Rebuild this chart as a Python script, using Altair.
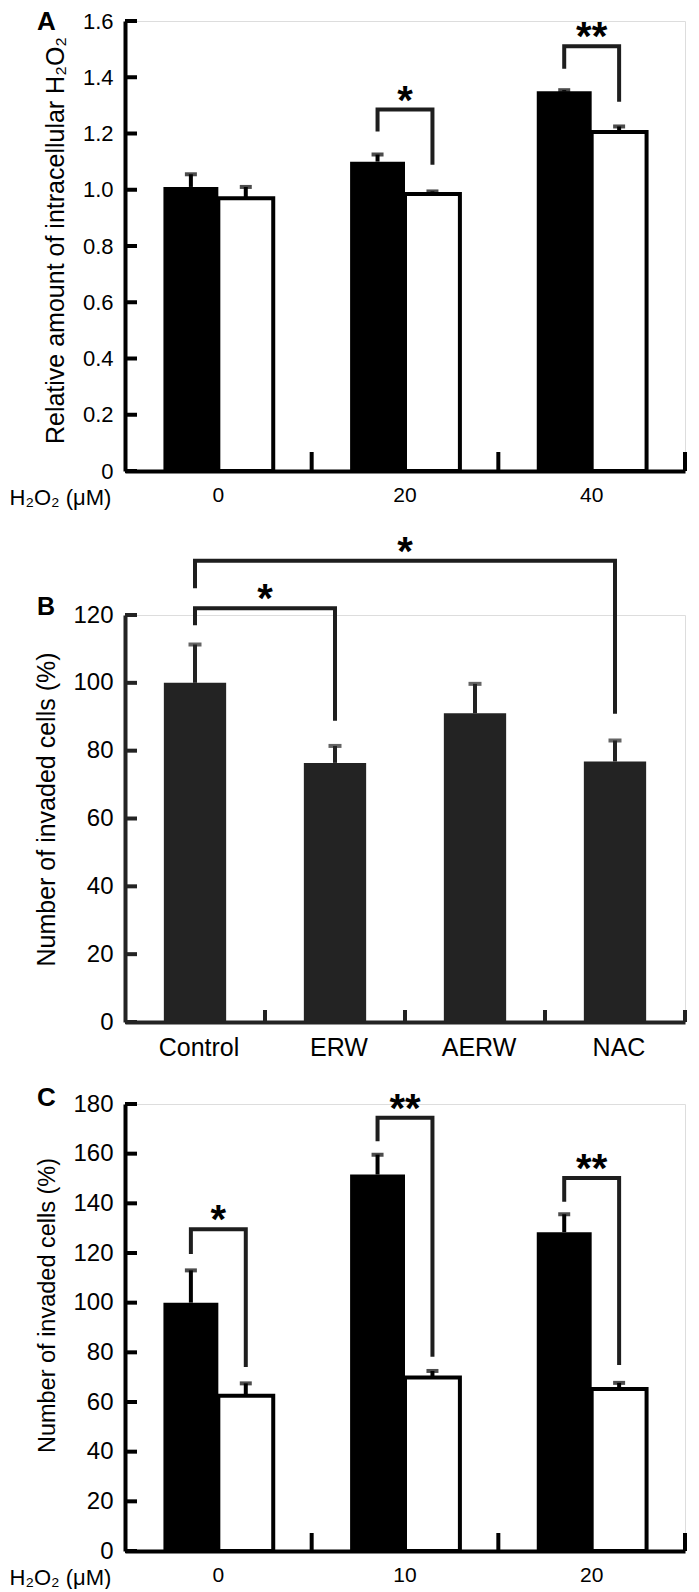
import altair as alt
import pandas as pd

LABEL_FONT = "Liberation Sans Narrow, Arial Narrow, Liberation Sans"
TITLE_FONT = "Liberation Sans"
SERIES = ["Control", "ERW"]          # black bars, white bars
B_COLOR = "#232323"

# ---------------- Panel A ----------------
A_DOSES = ["0", "20", "40"]
A_BLACK = [1.01, 1.10, 1.35]
A_BLACK_ERR = [0.045, 0.025, 0.004]
A_WHITE = [0.97, 0.985, 1.205]
A_WHITE_ERR = [0.04, 0.009, 0.02]
A_SIG_DOSE = ["20", "40"]
A_SIG_TOP = [1.285, 1.51]
A_SIG_LEFT = [1.207, 1.43]
A_SIG_RIGHT = [1.089, 1.313]
A_SIG_TEXT = ["*", "**"]
A_YTICKS = [0, 0.2, 0.4, 0.6, 0.8, 1.0, 1.2, 1.4, 1.6]

# ---------------- Panel B ----------------
B_TREAT = ["Control", "ERW", "AERW", "NAC"]
B_VALUE = [100.0, 76.4, 91.0, 76.8]
B_ERR = [11.3, 5.0, 8.7, 6.2]
B_SIG_LEFT_CAT = ["Control", "Control"]
B_SIG_RIGHT_CAT = ["ERW", "NAC"]
B_SIG_TOP = [122.0, 136.0]
B_SIG_LEFT = [117.0, 127.9]
B_SIG_RIGHT = [88.8, 90.9]
B_SIG_TEXT = ["*", "*"]
B_YTICKS = [0, 20, 40, 60, 80, 100, 120]

# ---------------- Panel C ----------------
C_DOSES = ["0", "10", "20"]
C_BLACK = [100.0, 151.6, 128.4]
C_BLACK_ERR = [13.0, 8.0, 7.2]
C_WHITE = [62.5, 69.9, 65.2]
C_WHITE_ERR = [5.0, 2.6, 2.5]
C_SIG_DOSE = ["0", "10", "20"]
C_SIG_TOP = [129.6, 174.5, 150.2]
C_SIG_LEFT = [119.6, 165.0, 140.6]
C_SIG_RIGHT = [74.1, 78.2, 74.9]
C_SIG_TEXT = ["*", "**", "**"]
C_YTICKS = [0, 20, 40, 60, 80, 100, 120, 140, 160, 180]

W = 560
LEFT = 116
STAR_SIZE = 40
STAR_DY = 4
H_A, H_B, H_C = 450, 407, 447


def paired_panel(doses, black, black_err, white, white_err, sig_dose, sig_top,
                 sig_left, sig_right, sig_text, yticks, ymax, ytitle, letter,
                 height, label_expr, ylab_size, xlab_size, ytitle_x, ytitle_y,
                 ytitle_size, letter_y, xtick_len):
    bars = pd.DataFrame({
        "dose": doses * 2,
        "series": [SERIES[0]] * len(doses) + [SERIES[1]] * len(doses),
        "value": black + white,
        "err": black_err + white_err,
    })
    bars["hi"] = bars["value"] + bars["err"]
    rows = []
    for i, d in enumerate(sig_dose):
        pts = [(SERIES[0], sig_left[i]), (SERIES[0], sig_top[i]),
               (SERIES[1], sig_top[i]), (SERIES[1], sig_right[i])]
        for k, (s, yv) in enumerate(pts):
            rows.append({"dose": d, "series": s, "y": yv, "ord": k, "bid": i})
    brk = pd.DataFrame(rows)
    stars = pd.DataFrame({"dose": sig_dose, "top": sig_top, "text": sig_text})
    ticks = pd.DataFrame({"t": yticks})
    xt_df = pd.DataFrame({"dose": doses})
    let_df = pd.DataFrame({"letter": [letter]})

    xscale = alt.Scale(domain=doses, paddingInner=0, paddingOuter=0)
    oscale = alt.Scale(domain=SERIES, paddingInner=0, paddingOuter=0.7)
    yscale = alt.Scale(domain=[0, ymax], nice=False, zero=True)

    xaxis = alt.Axis(title="H₂O₂ (μM)", titleX=-LEFT, titleY=33, titleAlign="left",
                     titleBaseline="alphabetic", titleFont=TITLE_FONT, titleFontSize=22,
                     titleFontWeight="normal", titleColor="black",
                     labelFont=LABEL_FONT, labelFontSize=xlab_size, labelAngle=0,
                     labelBaseline="alphabetic", labelPadding=30, labelColor="black",
                     ticks=False, tickSize=0, domainWidth=4, domainColor="black")
    yaxis = alt.Axis(title=ytitle, values=yticks, labelExpr=label_expr,
                     titleX=ytitle_x, titleY=ytitle_y, titleAngle=270,
                     titleBaseline="alphabetic", titleAlign="center",
                     titleFont=TITLE_FONT, titleFontSize=ytitle_size,
                     titleFontWeight="normal", titleColor="black",
                     labelFont=LABEL_FONT, labelFontSize=ylab_size, labelPadding=12,
                     labelColor="black", ticks=False, tickSize=0, grid=False,
                     domainWidth=4, domainColor="black")

    X = alt.X("dose:N", sort=doses)
    XO = alt.XOffset("series:N", sort=SERIES)

    bar = alt.Chart(bars).mark_bar(stroke="black").encode(
        x=alt.X("dose:N", sort=doses, scale=xscale, axis=xaxis),
        xOffset=alt.XOffset("series:N", sort=SERIES, scale=oscale),
        y=alt.Y("value:Q", scale=yscale, axis=yaxis),
        fill=alt.Fill("series:N", scale=alt.Scale(domain=SERIES, range=["black", "white"]), legend=None),
        strokeWidth=alt.StrokeWidth("series:N", scale=alt.Scale(domain=SERIES, range=[0, 4]), legend=None),
    )
    stem = alt.Chart(bars).mark_rule(color="black", strokeWidth=4).encode(
        x=X, xOffset=XO, y="value:Q", y2="hi:Q")
    cap = alt.Chart(bars).mark_tick(color="black", orient="horizontal", size=12, thickness=4).encode(
        x=X, xOffset=XO, y="hi:Q")
    br = alt.Chart(brk).mark_line(color="#1e1e1e", strokeWidth=4, strokeJoin="miter",
                                  strokeCap="butt").encode(
        x=X, xOffset=XO, y="y:Q", order="ord:Q", detail="bid:N")
    st = alt.Chart(stars).mark_text(font=TITLE_FONT, fontSize=STAR_SIZE, fontWeight="bold",
                                    baseline="alphabetic", dy=STAR_DY, color="black").encode(
        x=X, y="top:Q", text="text:N")
    yt = alt.Chart(ticks).mark_rule(color="black", strokeWidth=4).encode(
        y="t:Q", x=alt.value(0), x2=alt.value(12))
    xt = alt.Chart(xt_df).mark_rule(color="black", strokeWidth=4).encode(
        x=alt.X("dose:N", sort=doses, bandPosition=1),
        y=alt.value(height), y2=alt.value(height - xtick_len))
    lt = alt.Chart(let_df).mark_text(font=TITLE_FONT, fontSize=26, fontWeight="bold",
                                     align="left", baseline="top", color="black").encode(
        x=alt.value(-88), y=alt.value(letter_y), text="letter:N")
    return alt.layer(bar, stem, cap, br, st, yt, xt, lt).properties(width=W, height=height)


def single_panel():
    bars = pd.DataFrame({"treat": B_TREAT, "value": B_VALUE, "err": B_ERR})
    bars["hi"] = bars["value"] + bars["err"]
    rows = []
    for i in range(len(B_SIG_TOP)):
        pts = [(B_SIG_LEFT_CAT[i], B_SIG_LEFT[i]), (B_SIG_LEFT_CAT[i], B_SIG_TOP[i]),
               (B_SIG_RIGHT_CAT[i], B_SIG_TOP[i]), (B_SIG_RIGHT_CAT[i], B_SIG_RIGHT[i])]
        for k, (c, yv) in enumerate(pts):
            rows.append({"treat": c, "y": yv, "ord": k, "bid": i})
    brk = pd.DataFrame(rows)
    ticks = pd.DataFrame({"t": B_YTICKS})
    xt_df = pd.DataFrame({"treat": B_TREAT})
    let_df = pd.DataFrame({"letter": ["B"]})
    height = H_B

    xscale = alt.Scale(domain=B_TREAT, paddingInner=0, paddingOuter=0)
    yscale = alt.Scale(domain=[0, 120], nice=False, zero=True)
    xaxis = alt.Axis(title=None, labelFont=LABEL_FONT, labelFontSize=25, labelAngle=0,
                     labelBaseline="alphabetic", labelPadding=33, labelOffset=4,
                     labelColor="black", ticks=False, tickSize=0, domainWidth=4,
                     domainColor=B_COLOR)
    yaxis = alt.Axis(title="Number of invaded cells (%)", values=B_YTICKS,
                     titleX=-71, titleY=194, titleAngle=270, titleBaseline="alphabetic",
                     titleAlign="center", titleFont=TITLE_FONT, titleFontSize=25,
                     titleFontWeight="normal", titleColor="black",
                     labelFont=LABEL_FONT, labelFontSize=24, labelPadding=12,
                     labelColor="black", ticks=False, tickSize=0, grid=False,
                     domainWidth=4, domainColor=B_COLOR)
    X = alt.X("treat:N", sort=B_TREAT)
    bar = alt.Chart(bars).mark_bar(color=B_COLOR, width=alt.RelativeBandSize(0.445)).encode(
        x=alt.X("treat:N", sort=B_TREAT, scale=xscale, axis=xaxis),
        y=alt.Y("value:Q", scale=yscale, axis=yaxis))
    stem = alt.Chart(bars).mark_rule(color=B_COLOR, strokeWidth=4).encode(
        x=X, y="value:Q", y2="hi:Q")
    cap = alt.Chart(bars).mark_tick(color=B_COLOR, orient="horizontal", size=13, thickness=4).encode(
        x=X, y="hi:Q")
    br = alt.Chart(brk).mark_line(color="#1e1e1e", strokeWidth=4, strokeJoin="miter",
                                  strokeCap="butt").encode(
        x=X, y="y:Q", order="ord:Q", detail="bid:N")
    star_layers = []
    for i in range(len(B_SIG_TOP)):
        li = B_TREAT.index(B_SIG_LEFT_CAT[i])
        ri = B_TREAT.index(B_SIG_RIGHT_CAT[i])
        if (li + ri) % 2 == 0:
            anchor_cat, bpos = B_TREAT[(li + ri) // 2], 0.5
        else:
            anchor_cat, bpos = B_TREAT[(li + ri - 1) // 2], 1.0
        sdf = pd.DataFrame({"treat": [anchor_cat], "top": [B_SIG_TOP[i]],
                            "text": [B_SIG_TEXT[i]]})
        star_layers.append(
            alt.Chart(sdf).mark_text(font=TITLE_FONT, fontSize=STAR_SIZE, fontWeight="bold",
                                     baseline="alphabetic", dy=STAR_DY, color="black").encode(
                x=alt.X("treat:N", sort=B_TREAT, bandPosition=bpos),
                y="top:Q", text="text:N"))
    yt = alt.Chart(ticks).mark_rule(color=B_COLOR, strokeWidth=4).encode(
        y="t:Q", x=alt.value(0), x2=alt.value(12))
    xt = alt.Chart(xt_df).mark_rule(color=B_COLOR, strokeWidth=4).encode(
        x=alt.X("treat:N", sort=B_TREAT, bandPosition=1),
        y=alt.value(height), y2=alt.value(height - 12))
    lt = alt.Chart(let_df).mark_text(font=TITLE_FONT, fontSize=25, fontWeight="bold",
                                     align="left", baseline="top", color="black").encode(
        x=alt.value(-88), y=alt.value(-20), text="letter:N")
    return alt.layer(bar, stem, cap, br, *star_layers, yt, xt, lt).properties(width=W, height=height)


panel_a = paired_panel(A_DOSES, A_BLACK, A_BLACK_ERR, A_WHITE, A_WHITE_ERR, A_SIG_DOSE,
                       A_SIG_TOP, A_SIG_LEFT, A_SIG_RIGHT, A_SIG_TEXT, A_YTICKS, 1.6,
                       "Relative amount of intracellular H₂O₂", "A", H_A,
                       "datum.value == 0 ? '0' : format(datum.value, '.1f')",
                       22, 21, -62, 219, 25, -12, 19)
panel_b = single_panel()
panel_c = paired_panel(C_DOSES, C_BLACK, C_BLACK_ERR, C_WHITE, C_WHITE_ERR, C_SIG_DOSE,
                       C_SIG_TOP, C_SIG_LEFT, C_SIG_RIGHT, C_SIG_TEXT, C_YTICKS, 180,
                       "Number of invaded cells (%)", "C", H_C,
                       "format(datum.value, 'd')",
                       24, 21, -71, 201, 23.5, -19, 18)

chart = alt.vconcat(panel_a, panel_b, panel_c, spacing=23).properties(
    padding=0
).configure_view(stroke=None).configure(font=TITLE_FONT)

chart.save("out.html", embed_options={"renderer": "svg", "actions": False})
